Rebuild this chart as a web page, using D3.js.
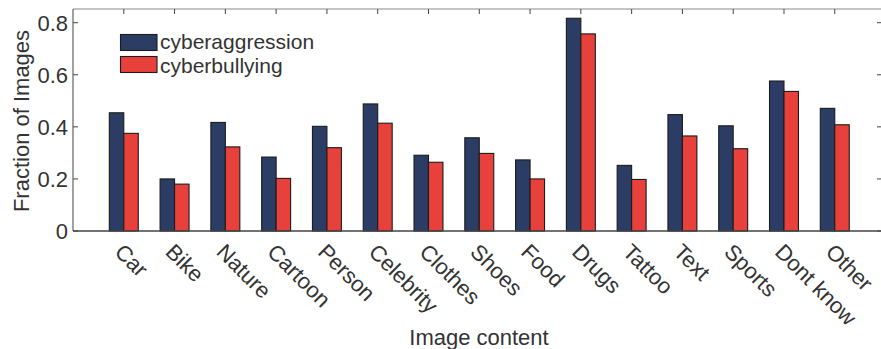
<!DOCTYPE html>
<html>
<head>
<meta charset="utf-8">
<script src="https://cdn.jsdelivr.net/npm/d3@7"></script>
<style>
  body { margin: 0; background: #fff; }
  text { font-family: "Liberation Sans", Arial, sans-serif; fill: #333; }
</style>
</head>
<body>
<div id="chart"></div>
<script>
// Data
const categories = ["Car", "Bike", "Nature", "Cartoon", "Person", "Celebrity", "Clothes",
  "Shoes", "Food", "Drugs", "Tattoo", "Text", "Sports", "Dont know", "Other"];
const aggression = [0.454, 0.200, 0.417, 0.284, 0.402, 0.488, 0.291, 0.358, 0.273, 0.817,
  0.252, 0.447, 0.404, 0.576, 0.471];
const bullying = [0.375, 0.180, 0.323, 0.202, 0.320, 0.414, 0.264, 0.298, 0.200, 0.757,
  0.198, 0.365, 0.316, 0.536, 0.408];
const seriesNames = ["cyberaggression", "cyberbullying"];
const yTicks = [0, 0.2, 0.4, 0.6, 0.8];

const W = 881, H = 349;
const plot = { left: 73, right: 882, top: 9, bottom: 231 };

const svg = d3.select("#chart").append("svg")
    .attr("width", W)
    .attr("height", H);

// x: category i sits at position i + 1
const x = d3.scaleLinear().domain([0, 15.93]).range([plot.left, plot.right]);
const y = d3.scaleLinear().domain([0, 0.8526]).range([plot.bottom, plot.top]);

const colors = ["#2b3d64", "#e8403a"];
const barW = 0.285;

// Bars
const groups = [aggression, bullying];
groups.forEach((vals, s) => {
  svg.append("g")
    .selectAll("rect")
    .data(vals)
    .join("rect")
      .attr("x", (d, i) => x(i + 1 - barW + s * barW))
      .attr("width", x(barW) - x(0))
      .attr("y", d => y(d))
      .attr("height", d => y(0) - y(d))
      .attr("fill", colors[s])
      .attr("stroke", "#1c1c1c")
      .attr("stroke-width", 1.1);
});

// Box axes with inward ticks
const axisColor = "#444";
svg.append("line")
    .attr("x1", plot.left).attr("x2", plot.right)
    .attr("y1", plot.top).attr("y2", plot.top)
    .attr("stroke", "#888").attr("stroke-width", 1);
svg.append("line")
    .attr("x1", plot.left).attr("x2", plot.left)
    .attr("y1", plot.top).attr("y2", plot.bottom)
    .attr("stroke", axisColor).attr("stroke-width", 1);
svg.append("line")
    .attr("x1", plot.right - 0.5).attr("x2", plot.right - 0.5)
    .attr("y1", plot.top).attr("y2", plot.bottom)
    .attr("stroke", axisColor).attr("stroke-width", 1);

// top ticks
svg.append("g")
  .selectAll("line")
  .data(categories)
  .join("line")
    .attr("x1", (d, i) => x(i + 1)).attr("x2", (d, i) => x(i + 1))
    .attr("y1", plot.top).attr("y2", plot.top + 5)
    .attr("stroke", axisColor);

// y ticks left and right
svg.append("g")
  .selectAll("line")
  .data(yTicks)
  .join("line")
    .attr("x1", plot.left).attr("x2", plot.left + 5)
    .attr("y1", d => y(d)).attr("y2", d => y(d))
    .attr("stroke", axisColor);
svg.append("g")
  .selectAll("line")
  .data(yTicks)
  .join("line")
    .attr("x1", plot.right - 5).attr("x2", plot.right)
    .attr("y1", d => y(d)).attr("y2", d => y(d))
    .attr("stroke", axisColor);

// bottom axis line drawn on top of bars
svg.append("line")
    .attr("x1", plot.left).attr("x2", plot.right)
    .attr("y1", plot.bottom).attr("y2", plot.bottom)
    .attr("stroke", axisColor).attr("stroke-width", 1.5);

// y tick labels
svg.append("g")
  .selectAll("text")
  .data(yTicks)
  .join("text")
    .attr("x", plot.left - 5)
    .attr("y", d => y(d))
    .attr("dy", "0.36em")
    .attr("text-anchor", "end")
    .style("font-size", "22px")
    .text(d => d === 0 ? "0" : d.toFixed(1));

// x tick labels, rotated
svg.append("g")
  .selectAll("text")
  .data(categories)
  .join("text")
    .attr("transform", (d, i) => `translate(${x(i + 1) + 1},${plot.bottom + 11}) rotate(45)`)
    .attr("dy", "0.72em")
    .style("font-size", "22px")
    .text(d => d);

// axis titles
svg.append("text")
    .attr("x", 479)
    .attr("y", 345)
    .attr("text-anchor", "middle")
    .style("font-size", "22px")
    .text("Image content");

svg.append("text")
    .attr("transform", `translate(29,121) rotate(-90)`)
    .attr("text-anchor", "middle")
    .style("font-size", "22px")
    .text("Fraction of Images");

// legend
const legend = svg.append("g");
legend.selectAll("rect")
  .data(seriesNames)
  .join("rect")
    .attr("x", 120.5)
    .attr("y", (d, s) => 34.5 + s * 22)
    .attr("width", 36.5)
    .attr("height", 16)
    .attr("fill", (d, s) => colors[s])
    .attr("stroke", "#1c1c1c")
    .attr("stroke-width", 1.1);

legend.selectAll("text")
  .data(seriesNames)
  .join("text")
    .attr("x", 160)
    .attr("y", (d, s) => 41.5 + s * 23.6)
    .attr("dy", "0.36em")
    .style("font-size", "21px")
    .text(d => d);
</script>
</body>
</html>
